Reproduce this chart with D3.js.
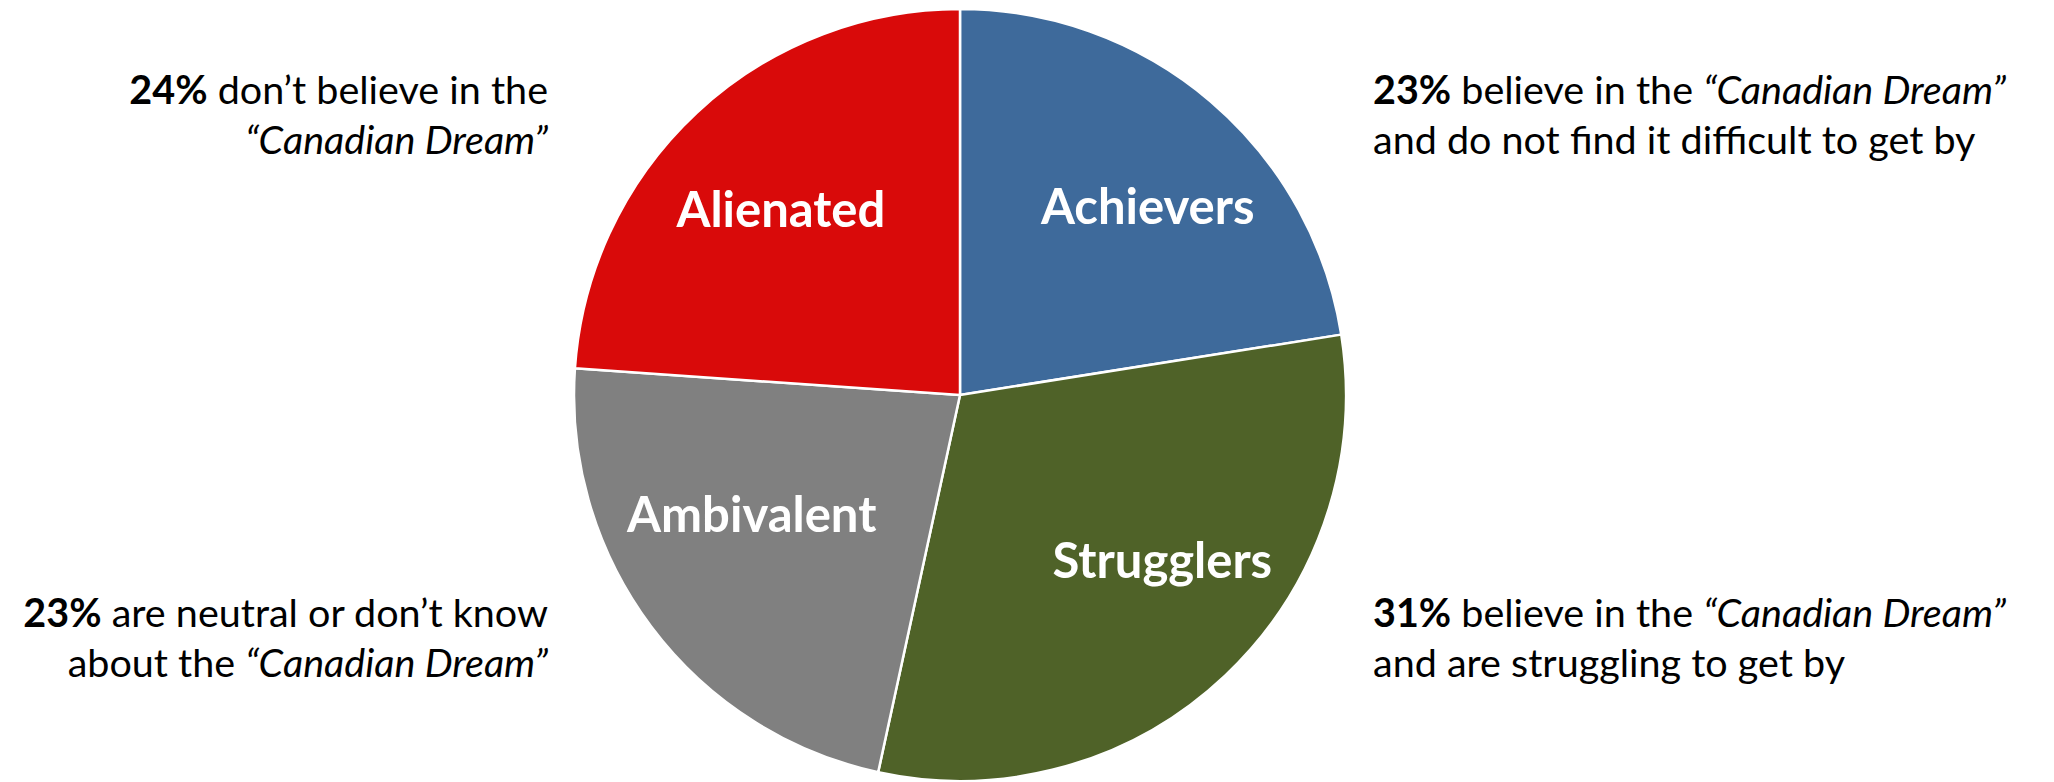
<!DOCTYPE html>
<html>
<head>
<meta charset="utf-8">
<script src="https://cdn.jsdelivr.net/npm/d3@7"></script>
<style>
  body { margin: 0; background: #fff; }
  svg { display: block; font-family: Lato, "Open Sans", sans-serif; }
</style>
</head>
<body>
<svg></svg>
<script>
'use strict';

// segments, clockwise from 12 o'clock
var segments = ['Achievers', 'Strugglers', 'Ambivalent', 'Alienated'];
// slice sizes
var shares = [22.5, 30.9, 22.7, 23.9];
var colours = ['#3E6A9B', '#4F6228', '#808080', '#D90A0A'];

// the call-out texts (percent in bold, rest in pieces)
var calloutPct = ['23%', '31%', '23%', '24%'];
var calloutLines = [
  [[' believe in the ', 'n'], ['\u201CCanadian Dream\u201D', 'i']],
  [[' believe in the ', 'n'], ['\u201CCanadian Dream\u201D', 'i']],
  [[' are neutral or don\u2019t know', 'n']],
  [[' don\u2019t believe in the', 'n']]
];
var calloutSecond = [
  [['and do not find it difficult to get by', 'n']],
  [['and are struggling to get by', 'n']],
  [['about the ', 'n'], ['\u201CCanadian Dream\u201D', 'i']],
  [['\u201CCanadian Dream\u201D', 'i']]
];

var SVG_SIZE = {width: 2054, height: 782};
var CENTER = {x: 960, y: 395};
var RADIUS = 386;

var svg = d3.select('svg')
  .attr('width', SVG_SIZE.width).attr('height', SVG_SIZE.height);

var data = segments.map(function(s, i) {
  return {name: s, value: shares[i], colour: colours[i], pct: calloutPct[i]};
});

var pie = d3.pie().sort(null).value(function(d) { return d.value; });
var arc = d3.arc().innerRadius(0).outerRadius(RADIUS);
var labelArc = d3.arc().innerRadius(RADIUS * 0.33).outerRadius(RADIUS);

// excel "best fit" moves the labels a bit off the centroid
var labelNudge = [[21, 7], [26, -21], [-3, -34], [-4, 3]];

var plot = svg.append('g')
  .attr('transform', 'translate(' + CENTER.x + ',' + CENTER.y + ')');

var arcs = pie(data);

plot.selectAll('path').data(arcs).enter().append('path')
  .attr('d', arc)
  .attr('fill', function(d) { return d.data.colour; })
  .attr('stroke', '#fff')
  .attr('stroke-width', 2.5)
  .attr('stroke-linejoin', 'round');

plot.selectAll('text.seg').data(arcs).enter().append('text')
  .attr('class', 'seg')
  .attr('transform', function(d, i) {
    var c = labelArc.centroid(d);
    return 'translate(' + (c[0] + labelNudge[i][0]) + ',' + (c[1] + labelNudge[i][1]) + ')';
  })
  .attr('text-anchor', 'middle')
  .attr('dy', '0.35em')
  .attr('fill', '#fff')
  .attr('font-weight', 'bold')
  .attr('font-size', 49)
  .text(function(d) { return d.data.name; });

// call-outs: right side anchored at start, left side anchored at end
var CALLOUT_SIZE = 39.5;
var LINE_GAP = 50;
var calloutPos = [
  {x: 1373, y: 104, anchor: 'start'},
  {x: 1373, y: 627, anchor: 'start'},
  {x: 548, y: 627, anchor: 'end'},
  {x: 548, y: 104, anchor: 'end'}
];

function addPieces(textSel, pieces) {
  pieces.forEach(function(p) {
    textSel.append('tspan')
      .attr('font-style', p[1] === 'i' ? 'italic' : 'normal')
      .text(p[0]);
  });
}

data.forEach(function(d, i) {
  var pos = calloutPos[i];
  var t1 = svg.append('text')
    .attr('x', pos.x).attr('y', pos.y)
    .attr('text-anchor', pos.anchor)
    .attr('font-size', CALLOUT_SIZE)
    .attr('fill', '#000');
  t1.append('tspan').attr('font-weight', 'bold').text(d.pct);
  addPieces(t1, calloutLines[i]);

  var t2 = svg.append('text')
    .attr('x', pos.x).attr('y', pos.y + LINE_GAP)
    .attr('text-anchor', pos.anchor)
    .attr('font-size', CALLOUT_SIZE)
    .attr('fill', '#000');
  addPieces(t2, calloutSecond[i]);
});
</script>
</body>
</html>
